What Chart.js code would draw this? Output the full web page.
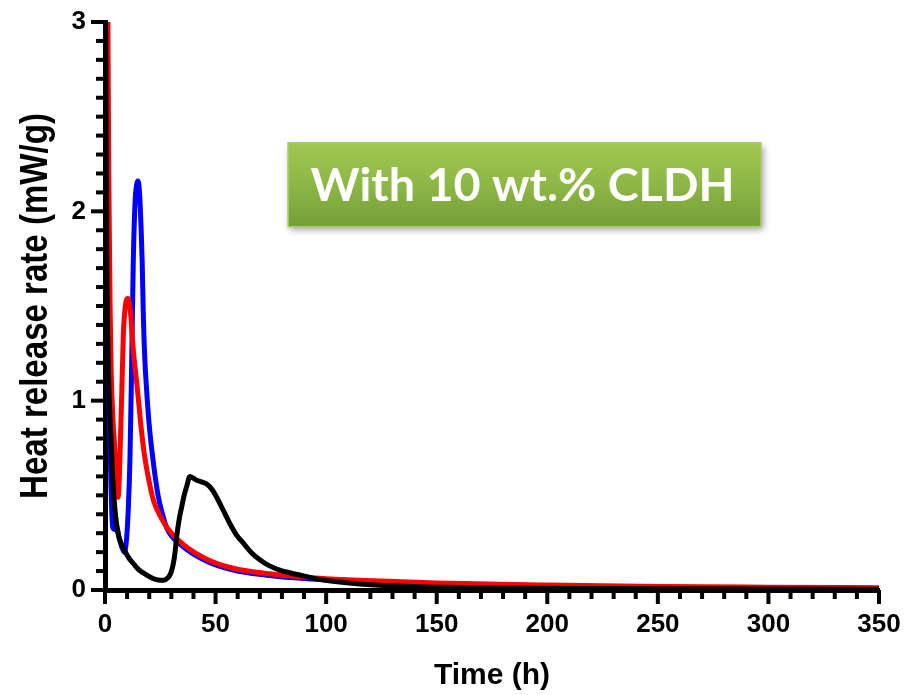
<!DOCTYPE html>
<html>
<head>
<meta charset="utf-8">
<script src="https://cdn.jsdelivr.net/npm/chart.js@4.4.1/dist/chart.umd.min.js"></script>
<style>
  html, body { margin: 0; padding: 0; background: #fff; }
  #contenedor { width: 908px; height: 695px; }
</style>
</head>
<body>
<div id="contenedor"><canvas id="graficaCalor"></canvas></div>
<script>
// Tiempo (h) y flujo de calor (mW/g) de cada curva
const tiempoNegro = [0.3, 0.8, 1.5, 2.5, 3.5, 4.4, 5.9, 7.5, 9, 11, 12.8, 15, 17.3, 21, 24, 26.5, 28.5, 29.8, 30.9, 31.7,
    32.4, 33.5, 34.7, 35.8, 36.9, 38.4, 40, 41.5, 44, 46, 48.5, 50.5, 53.5, 56.5, 59.5, 62.4, 66, 70, 74, 79,
    84, 88, 95, 102, 115, 139, 170, 200, 250, 300, 350];
const calorNegro = [3.0, 1.8, 1.2, 0.85, 0.6, 0.44, 0.3, 0.24, 0.205, 0.165, 0.14, 0.11, 0.09, 0.065, 0.053, 0.052, 0.065, 0.09, 0.14, 0.2,
    0.28, 0.37, 0.44, 0.5, 0.545, 0.6, 0.59, 0.58, 0.57, 0.56, 0.53, 0.49, 0.42, 0.35, 0.29, 0.25, 0.2, 0.16, 0.13, 0.105,
    0.09, 0.079, 0.06, 0.047, 0.032, 0.018, 0.012, 0.009, 0.007, 0.005, 0.004];

const tiempoAzul = [0.6, 0.9, 1.3, 1.8, 2.3, 2.7, 3.1, 3.5, 4.5, 5.3, 6.3, 7.5, 8.7, 9.6, 10.5, 11.3, 12.0, 12.8, 13.6, 14.3,
    14.9, 15.6, 16.3, 16.8, 17.4, 18, 18.8, 20, 22, 24, 26, 28, 35, 46, 58, 73, 87, 100, 125, 150,
    200, 250, 300, 350];
const calorAzul = [3.0, 2.0, 1.4, 1.0, 0.75, 0.55, 0.4, 0.33, 0.32, 0.33, 0.28, 0.23, 0.2, 0.25, 0.42, 0.7, 1.15, 1.74, 2.05, 2.14,
    2.16, 2.1, 1.92, 1.74, 1.42, 1.22, 1.06, 0.87, 0.66, 0.5, 0.4, 0.325, 0.232, 0.152, 0.105, 0.078, 0.063, 0.053, 0.04, 0.032,
    0.021, 0.015, 0.011, 0.008];

const tiempoRojo = [1.3, 1.7, 2.3, 2.8, 3.6, 4.4, 5.2, 5.9, 6.5, 7.0, 7.6, 8.3, 9.2, 10.4, 11.5, 12.7, 14.3, 15, 16.5, 18,
    20, 22, 25, 28, 35, 46, 58, 73, 87, 100, 125, 150, 200, 250, 300, 350];
const calorRojo = [3.05, 2.2, 1.5, 1.15, 0.9, 0.75, 0.56, 0.49, 0.6, 0.8, 1.05, 1.35, 1.5, 1.54, 1.47, 1.28, 1.1, 1.02, 0.84, 0.7,
    0.57, 0.47, 0.39, 0.33, 0.245, 0.163, 0.115, 0.087, 0.071, 0.06, 0.047, 0.037, 0.026, 0.019, 0.015, 0.012];

const ticksX = [0, 50, 100, 150, 200, 250, 300, 350];
const ticksY = [0, 1, 2, 3];
const tituloEjeY = 'Heat release rate (mW/g)';
const textoCuadro = 'With 10 wt.% CLDH';

const puntos = (xs, ys) => xs.map((t, i) => ({ x: t, y: ys[i] }));

function curva(nombre, xs, ys, color, orden) {
    return {
        label: nombre,
        data: puntos(xs, ys),
        showLine: true,
        borderColor: color,
        backgroundColor: color,
        borderWidth: 5,
        pointRadius: 0,
        cubicInterpolationMode: 'monotone',
        order: orden
    };
}

// Marcas del eje: mayores en cada etiqueta, menores cada 10 h y cada 0.1 mW/g
const marcasEje = {
    id: 'marcasEje',
    afterDraw(chart) {
        const { ctx, chartArea } = chart;
        const x = chart.scales.x, y = chart.scales.y;
        ctx.save();
        ctx.strokeStyle = '#000';
        ctx.lineWidth = 4;
        for (let v = 0; v <= 350; v += 10) {
            const px = x.getPixelForValue(v);
            const largo = ticksX.includes(v) ? 14 : 9;
            ctx.beginPath();
            ctx.moveTo(px, chartArea.bottom);
            ctx.lineTo(px, chartArea.bottom + largo);
            ctx.stroke();
        }
        for (let i = 0; i <= 30; i++) {
            const py = y.getPixelForValue(i / 10);
            const largo = i % 10 === 0 ? 14 : 9;
            ctx.beginPath();
            ctx.moveTo(chartArea.left, py);
            ctx.lineTo(chartArea.left - largo, py);
            ctx.stroke();
        }
        ctx.restore();
    }
};

// Título del eje Y, algo estrecho
const tituloY = {
    id: 'tituloY',
    afterDraw(chart) {
        const { ctx, chartArea } = chart;
        ctx.save();
        ctx.translate(37, (chartArea.top + chartArea.bottom) / 2);
        ctx.rotate(-Math.PI / 2);
        ctx.scale(0.87, 1);
        ctx.font = 'bold 38px "Liberation Sans", Arial, sans-serif';
        ctx.fillStyle = '#000';
        ctx.textAlign = 'center';
        ctx.textBaseline = 'middle';
        ctx.fillText(tituloEjeY, 0, 0);
        ctx.restore();
    }
};

// Recuadro verde con el texto de la condición
const cuadroVerde = {
    id: 'cuadroVerde',
    afterDraw(chart) {
        const { ctx, scales: { x, y } } = chart;
        const x0 = x.getPixelForValue(82.8), x1 = x.getPixelForValue(296.6);
        const y0 = y.getPixelForValue(2.362), y1 = y.getPixelForValue(1.919);
        ctx.save();
        const grad = ctx.createLinearGradient(0, y0, 0, y1);
        grad.addColorStop(0, '#a0c650');
        grad.addColorStop(0.5, '#8db746');
        grad.addColorStop(1, '#769e38');
        ctx.shadowColor = 'rgba(0, 0, 0, 0.4)';
        ctx.shadowBlur = 7;
        ctx.shadowOffsetX = 2;
        ctx.shadowOffsetY = 3;
        ctx.fillStyle = grad;
        ctx.fillRect(x0, y0, x1 - x0, y1 - y0);
        ctx.shadowColor = 'transparent';
        ctx.strokeStyle = '#a9cb68';
        ctx.lineWidth = 1.5;
        ctx.strokeRect(x0, y0, x1 - x0, y1 - y0);

        let tam = 50;
        ctx.font = `bold ${tam}px Lato, "Open Sans", sans-serif`;
        tam = tam * 424 / ctx.measureText(textoCuadro).width;
        ctx.font = `bold ${tam}px Lato, "Open Sans", sans-serif`;
        ctx.fillStyle = '#fff';
        ctx.textAlign = 'center';
        ctx.textBaseline = 'middle';
        ctx.fillText(textoCuadro, (x0 + x1) / 2 - 2, (y0 + y1) / 2 + 1);
        ctx.restore();
    }
};

document.addEventListener('DOMContentLoaded', function () {
    new Chart(document.getElementById('graficaCalor'), {
        type: 'scatter',
        data: {
            datasets: [
                curva('Negro', tiempoNegro, calorNegro, '#000000', 0),
                curva('Rojo', tiempoRojo, calorRojo, '#ff0000', 1),
                curva('Azul', tiempoAzul, calorAzul, '#0000ff', 2)
            ]
        },
        options: {
            responsive: true,
            maintainAspectRatio: false,
            animation: false,
            layout: { padding: { top: 22, right: 29, left: 0, bottom: 0 } },
            plugins: {
                legend: { display: false },
                tooltip: { enabled: false }
            },
            scales: {
                x: {
                    type: 'linear',
                    min: 0,
                    max: 350,
                    afterBuildTicks: scale => { scale.ticks = ticksX.map(v => ({ value: v })); },
                    afterFit: scale => {
                        scale.height = 105;
                        scale.paddingLeft = 0;
                        scale.paddingRight = 0;
                    },
                    grid: { display: false, drawTicks: false },
                    border: { display: true, color: '#000', width: 5 },
                    ticks: {
                        color: '#000',
                        padding: 19,
                        maxRotation: 0,
                        font: { family: '"Liberation Sans", Arial, sans-serif', size: 26, weight: 'bold' }
                    },
                    title: {
                        display: true,
                        text: 'Time (h)',
                        color: '#000',
                        padding: { top: 0, bottom: 1 },
                        font: { family: '"Liberation Sans", Arial, sans-serif', size: 30, weight: 'bold' }
                    }
                },
                y: {
                    type: 'linear',
                    min: 0,
                    max: 3,
                    afterBuildTicks: scale => { scale.ticks = ticksY.map(v => ({ value: v })); },
                    afterFit: scale => {
                        scale.width = 105;
                        scale.paddingTop = 0;
                        scale.paddingBottom = 0;
                    },
                    grid: { display: false, drawTicks: false },
                    border: { display: true, color: '#000', width: 5 },
                    ticks: {
                        color: '#000',
                        padding: 19,
                        font: { family: '"Liberation Sans", Arial, sans-serif', size: 26, weight: 'bold' }
                    }
                }
            }
        },
        plugins: [marcasEje, tituloY, cuadroVerde]
    });
});
</script>
</body>
</html>
